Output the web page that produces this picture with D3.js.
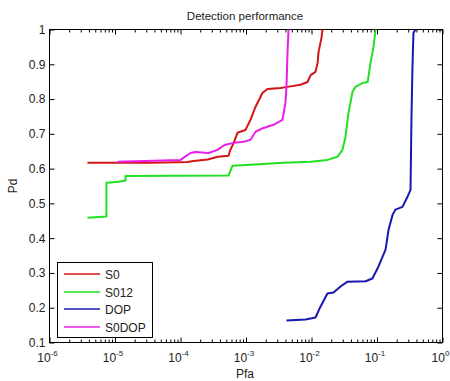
<!DOCTYPE html>
<html>
<head>
<script src="https://cdn.jsdelivr.net/npm/d3@7"></script>
<style>
body { margin: 0; background: #fff; }
text { font-family: "Liberation Sans", Arial, sans-serif; fill: #222; }
</style>
</head>
<body>
<svg width="450" height="381"></svg>
<script>
// curves: [Pfa, Pd]
var s0 = [[3.8e-6,0.617],[3.5e-5,0.617],[1.28e-4,0.619],[1.58e-4,0.622],[2.6e-4,0.626],[3.7e-4,0.634],
  [5.4e-4,0.637],[5.8e-4,0.655],[6.5e-4,0.674],[7.4e-4,0.703],[9.8e-4,0.711],[1.17e-3,0.74],[1.4e-3,0.778],
  [1.79e-3,0.818],[2.13e-3,0.829],[3.36e-3,0.832],[4.3e-3,0.835],[6.8e-3,0.841],[8.7e-3,0.849],[9.7e-3,0.869],
  [1.15e-2,0.878],[1.24e-2,0.904],[1.28e-2,0.935],[1.42e-2,0.976],[1.47e-2,1.0]];
var s012 = [[3.8e-6,0.459],[7.4e-6,0.462],[7.4e-6,0.559],[1.13e-5,0.562],[1.45e-5,0.566],[1.45e-5,0.579],
  [5.4e-4,0.580],[6.2e-4,0.608],[1.17e-3,0.611],[3.74e-3,0.617],[9.7e-3,0.62],[1.75e-2,0.625],[2.49e-2,0.634],
  [2.97e-2,0.654],[3.3e-2,0.691],[3.67e-2,0.76],[4.23e-2,0.821],[4.7e-2,0.835],[6.0e-2,0.846],[7.2e-2,0.849],
  [7.96e-2,0.904],[8.85e-2,0.95],[9.5e-2,1.0]];
var dop = [[4.15e-3,0.163],[8.1e-3,0.166],[1.15e-2,0.172],[1.37e-2,0.203],[1.75e-2,0.241],[2.17e-2,0.244],
  [2.77e-2,0.261],[3.55e-2,0.275],[6.7e-2,0.276],[8.5e-2,0.284],[0.105,0.318],[0.135,0.367],[0.15,0.424],
  [0.173,0.467],[0.191,0.482],[0.245,0.49],[0.292,0.519],[0.325,0.539],[0.336,0.749],[0.348,0.893],
  [0.36,0.99],[0.387,1.0]];
var s0dop = [[1.09e-5,0.62],[1.0e-4,0.625],[1.42e-4,0.645],[1.69e-4,0.648],[2.67e-4,0.645],[3.67e-4,0.654],
  [4.7e-4,0.668],[6.4e-4,0.674],[9.2e-4,0.677],[1.17e-3,0.683],[1.4e-3,0.706],[1.85e-3,0.717],[2.63e-3,0.726],
  [3.6e-3,0.74],[4.0e-3,0.789],[4.15e-3,0.835],[4.3e-3,0.933],[4.46e-3,1.0]];

var names = ["S0", "S012", "DOP", "S0DOP"];
var colors = ["#d41515", "#22e022", "#1818b0", "#e81ee8"];
var xExponents = [-6, -5, -4, -3, -2, -1, 0];
var yTicks = [0.1, 0.2, 0.3, 0.4, 0.5, 0.6, 0.7, 0.8, 0.9, 1];

var svg = d3.select("svg");
var pLeft = 49.5, pRight = 442.5, pTop = 29.5, pBottom = 342.5;

var x = d3.scaleLog().domain([1e-6, 1]).range([pLeft, pRight]);
var y = d3.scaleLinear().domain([0.1, 1]).range([pBottom, pTop]);

var major = xExponents.map(function(e) { return Math.pow(10, e); });
var minor = [];
xExponents.slice(0, -1).forEach(function(e) {
  for (var k = 2; k <= 9; k++) minor.push(k * Math.pow(10, e));
});

// ticks (inside, like matlab)
function tickGroup(axis, ty) {
  var g = svg.append("g").attr("transform", "translate(0," + ty + ")").call(axis);
  g.select(".domain").remove();
  g.selectAll("line").attr("stroke", "#000");
  return g;
}
tickGroup(d3.axisBottom(x).tickValues(major).tickSize(-5).tickFormat(""), pBottom);
tickGroup(d3.axisBottom(x).tickValues(minor).tickSize(-3).tickFormat(""), pBottom);
tickGroup(d3.axisTop(x).tickValues(major).tickSize(-5).tickFormat(""), pTop);
tickGroup(d3.axisTop(x).tickValues(minor).tickSize(-3).tickFormat(""), pTop);

var gy = svg.append("g").attr("transform", "translate(" + pLeft + ",0)")
  .call(d3.axisLeft(y).tickValues(yTicks).tickSize(-5).tickPadding(4)
    .tickFormat(function(d) { return d === 1 ? "1" : d.toFixed(1); }));
gy.select(".domain").remove();
gy.selectAll("line").attr("stroke", "#000");
gy.selectAll("text").attr("font-size", "12px").attr("font-family", "Liberation Sans, Arial, sans-serif").attr("fill", "#222");

var gy2 = svg.append("g").attr("transform", "translate(" + pRight + ",0)")
  .call(d3.axisRight(y).tickValues(yTicks).tickSize(-5).tickFormat(""));
gy2.select(".domain").remove();
gy2.selectAll("line").attr("stroke", "#000");

// x tick labels 10^e
var xl = svg.append("g").selectAll("text").data(xExponents).enter().append("text")
  .attr("x", function(e) { return x(Math.pow(10, e)) - 2; })
  .attr("y", 362)
  .attr("text-anchor", "middle")
  .attr("font-size", "12px");
xl.append("tspan").text("10");
xl.append("tspan").attr("dy", -6).attr("font-size", "8px").text(function(e) { return e; });

// frame
svg.append("rect")
  .attr("x", pLeft).attr("y", pTop)
  .attr("width", pRight - pLeft).attr("height", pBottom - pTop)
  .attr("fill", "none").attr("stroke", "#000");

// curves
var line = d3.line()
  .x(function(d) { return x(d[0]); })
  .y(function(d) { return y(d[1]); });

[s0, s012, dop, s0dop].forEach(function(data, i) {
  svg.append("path")
    .datum(data)
    .attr("d", line)
    .attr("fill", "none")
    .attr("stroke", colors[i])
    .attr("stroke-width", 2)
    .attr("stroke-linejoin", "round");
});

// titles
svg.append("text").attr("x", 245).attr("y", 20).attr("text-anchor", "middle")
  .attr("font-size", "11.5px").text("Detection performance");
svg.append("text").attr("x", 245).attr("y", 378).attr("text-anchor", "middle")
  .attr("font-size", "12px").text("Pfa");
svg.append("text").attr("transform", "translate(17,186) rotate(-90)").attr("text-anchor", "middle")
  .attr("font-size", "12px").text("Pd");

// legend
var lg = svg.append("g");
lg.append("rect").attr("x", 57.5).attr("y", 262.5).attr("width", 95).attr("height", 75)
  .attr("fill", "#fff").attr("stroke", "#000");
var ly = [274, 292, 309, 327];
names.forEach(function(n, i) {
  lg.append("line").attr("x1", 64).attr("x2", 100).attr("y1", ly[i]).attr("y2", ly[i])
    .attr("stroke", colors[i]).attr("stroke-width", 1.5);
  lg.append("text").attr("x", 105).attr("y", ly[i] + 4.5).attr("font-size", "12px").text(n);
});
</script>
</body>
</html>
